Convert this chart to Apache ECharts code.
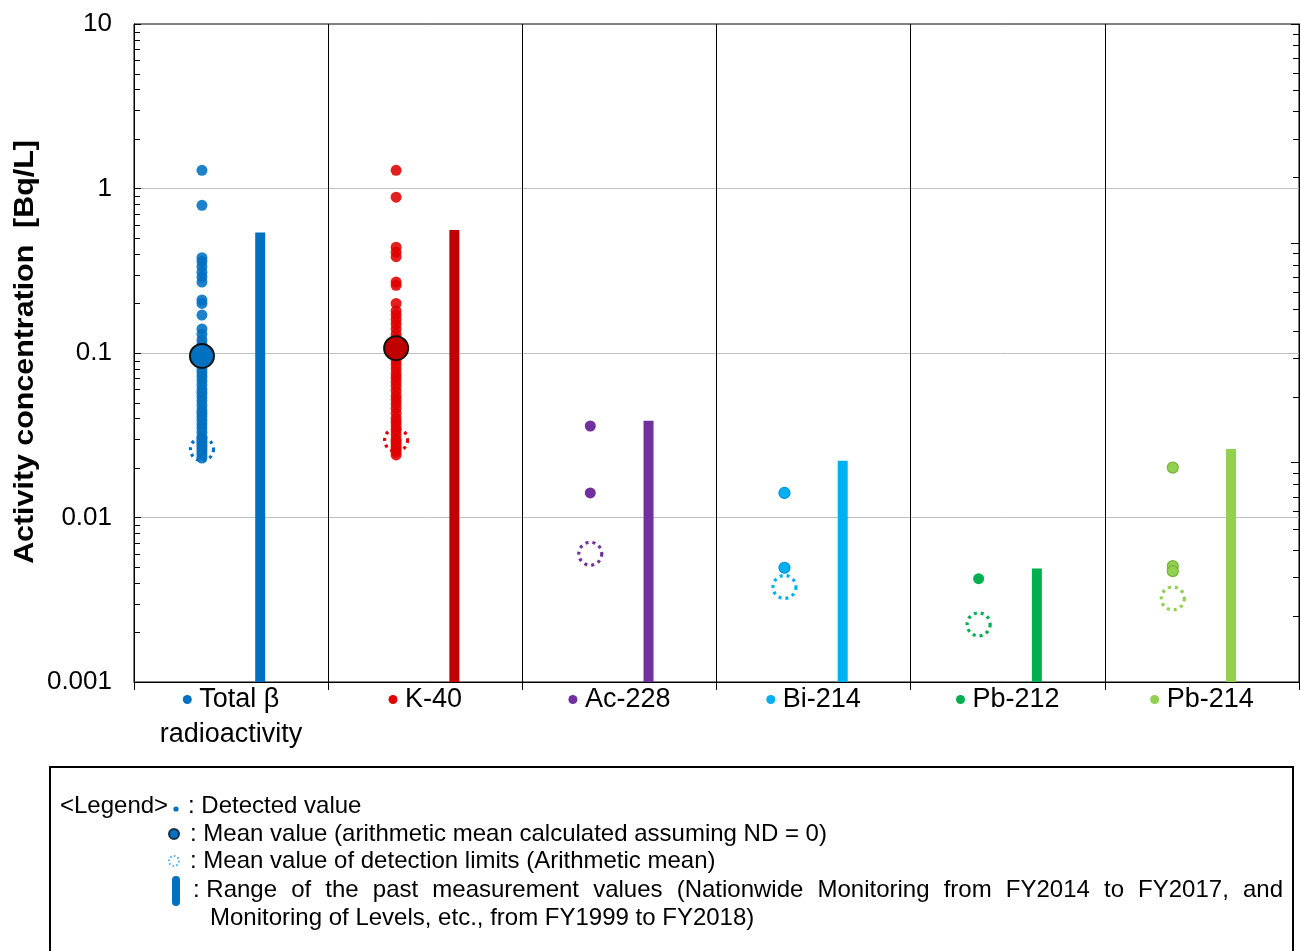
<!DOCTYPE html>
<html>
<head>
<meta charset="utf-8">
<title>Activity concentration</title>
<script src="https://cdn.jsdelivr.net/npm/echarts@6/dist/echarts.min.js"></script>
<style>
  html, body { margin: 0; padding: 0; background: #fff; }
  #chart { width: 1301px; height: 951px; }
</style>
</head>
<body>
<div id="chart"></div>
<script>
// ---- data ----
const categories = ['Total β', 'K-40', 'Ac-228', 'Bi-214', 'Pb-212', 'Pb-214'];
const categorySubLines = ['radioactivity', '', '', '', '', ''];
const colors = ['#0070C0', '#C00000', '#7030A0', '#00B0F0', '#00B050', '#92D050'];
const dotColors = ['#0070C0', '#E00000', '#7030A0', '#00B0F0', '#00B050', '#92D050'];
const dotBorders = [null, null, null, '#0090D8', null, '#78B23C'];

// detected values [Bq/L]
const totalBetaDetected = [1.29, 0.79, 0.38, 0.36, 0.335, 0.31, 0.29, 0.27, 0.21, 0.2, 0.17,
  0.14, 0.13, 0.12, 0.113, 0.105, 0.095, 0.09, 0.085, 0.08, 0.076, 0.072, 0.068, 0.064, 0.06,
  0.057, 0.054, 0.051, 0.048, 0.045, 0.043, 0.041, 0.039, 0.037, 0.035, 0.033, 0.031, 0.03,
  0.029, 0.028, 0.027, 0.026, 0.025, 0.024, 0.023];
const k40Detected = [1.29, 0.885, 0.44, 0.41, 0.385, 0.27, 0.258, 0.2, 0.18, 0.17, 0.16, 0.15,
  0.14, 0.13, 0.122, 0.115, 0.108, 0.1, 0.095, 0.09, 0.085, 0.08, 0.075, 0.071, 0.067, 0.063,
  0.059, 0.055, 0.052, 0.049, 0.046, 0.043, 0.04, 0.038, 0.036, 0.034, 0.032, 0.03, 0.029,
  0.028, 0.027, 0.026, 0.025, 0.024];
const ac228Detected = [0.036, 0.0141];
const bi214Detected = [0.0141, 0.00495];
const pb212Detected = [0.00425];
const pb214Detected = [0.0201, 0.00506, 0.00472];
const detectedByCategory = [totalBetaDetected, k40Detected, ac228Detected, bi214Detected, pb212Detected, pb214Detected];

// arithmetic means (ND = 0); only where shown
const meanValues = [0.096, 0.107, null, null, null, null];
// mean of detection limits
const detectionLimitMeans = [0.026, 0.0296, 0.00602, 0.00378, 0.00224, 0.00322];
// range of past measurement values
const pastRangeMin = [0.001, 0.001, 0.001, 0.001, 0.001, 0.001];
const pastRangeMax = [0.54, 0.56, 0.0387, 0.0221, 0.0049, 0.0261];

const yTickLabels = ['0.001', '0.01', '0.1', '1', '10'];
const yAxisTitle = 'Activity concentration  [Bq/L]';

// minor tick values for the two log scales
function minorTicks(lowExp, highExp) {
  const out = [];
  for (let e = lowExp; e < highExp; e++) {
    for (let m = 2; m <= 9; m++) out.push(+(m * Math.pow(10, e)).toPrecision(3));
  }
  return out;
}
const leftMinor = minorTicks(-3, 1);
const rightMinor = minorTicks(-2, 1);

const DOT_OFFSET = 0.35, BAR_OFFSET = 0.65;
const FONT = '"Liberation Sans", Arial, sans-serif';

// ---- series ----
const series = [];

// past range bars
series.push({
  type: 'custom',
  xAxisIndex: 0, yAxisIndex: 0,
  silent: true,
  data: categories.map((c, i) => [i + BAR_OFFSET, pastRangeMin[i], pastRangeMax[i], i]),
  encode: { x: 0, y: [1, 2] },
  renderItem(params, api) {
    const x = api.value(0);
    const lo = api.coord([x, api.value(1)]);
    const hi = api.coord([x, api.value(2)]);
    return {
      type: 'rect',
      shape: { x: lo[0] - 5, y: hi[1], width: 10, height: lo[1] - hi[1] },
      style: { fill: colors[api.value(3)] }
    };
  }
});

// detection limit means (dotted rings)
series.push({
  type: 'scatter',
  xAxisIndex: 0, yAxisIndex: 0,
  silent: true,
  symbol: 'circle',
  symbolSize: 23,
  data: detectionLimitMeans.map((v, i) => ({
    value: [i + DOT_OFFSET, v],
    itemStyle: { color: 'rgba(255,255,255,0)', opacity: 1, borderColor: dotColors[i], borderWidth: 3.2, borderType: [3, 4] }
  }))
});

// detected values
detectedByCategory.forEach((vals, i) => {
  series.push({
    type: 'scatter',
    xAxisIndex: 0, yAxisIndex: 0,
    silent: true,
    symbol: 'circle',
    symbolSize: 11,
    itemStyle: {
      color: dotColors[i],
      opacity: i < 2 ? 0.88 : 1,
      borderColor: dotBorders[i] || dotColors[i],
      borderWidth: dotBorders[i] ? 1.2 : 0
    },
    data: vals.map(v => [i + DOT_OFFSET, v])
  });
});

// arithmetic means
series.push({
  type: 'scatter',
  xAxisIndex: 0, yAxisIndex: 0,
  silent: true,
  symbol: 'circle',
  symbolSize: 24,
  data: meanValues.map((v, i) => v == null ? null : ({
    value: [i + DOT_OFFSET, v],
    itemStyle: { color: colors[i], opacity: 1, borderColor: '#111', borderWidth: 2 }
  })).filter(d => d)
});

// minor ticks on the left and right log scales
function tickSeries(values, xPos, yIdx, len, dir) {
  return {
    type: 'custom',
    xAxisIndex: 0, yAxisIndex: yIdx,
    silent: true,
    z: 5,
    data: values.map(v => [xPos, v]),
    encode: { x: 0, y: 1 },
    renderItem(params, api) {
      const p = api.coord([api.value(0), api.value(1)]);
      const y = Math.round(p[1]) + 0.5;
      return {
        type: 'line',
        shape: { x1: p[0], y1: y, x2: p[0] + dir * len, y2: y },
        style: { stroke: '#000', lineWidth: 1 }
      };
    }
  };
}
series.push(tickSeries(leftMinor, 0, 0, 6, 1));
series.push(tickSeries(rightMinor, 6, 1, 6, -1));

// ---- axis label rich styles ----
const rich = { t: { fontSize: 27, fontFamily: FONT, color: '#000', lineHeight: 35, align: 'center' } };
categories.forEach((c, i) => {
  rich['d' + i] = { width: 9, height: 9, borderRadius: 4.5, backgroundColor: dotColors[i], align: 'center', lineHeight: 35 };
});

const option = {
  animation: false,
  backgroundColor: '#fff',
  grid: { left: 134, right: 2, top: 24, bottom: 269, show: true, borderColor: '#000', borderWidth: 1, backgroundColor: 'transparent' },
  xAxis: [
    {
      type: 'value', min: 0, max: 6, interval: 1,
      axisLine: { show: true, onZero: false, lineStyle: { color: '#000', width: 1 } },
      axisTick: { show: true, length: 8, lineStyle: { color: '#000' } },
      axisLabel: { show: false },
      splitLine: { show: true, lineStyle: { color: '#000', width: 1 } }
    },
    {
      type: 'category', position: 'bottom', data: categories,
      axisLine: { show: false }, axisTick: { show: false }, splitLine: { show: false },
      axisLabel: {
        interval: 0, margin: 0,
        formatter: (v, i) => '{d' + i + '|}{t| ' + v + '}' + (categorySubLines[i] ? '\n{t|' + categorySubLines[i] + '}' : ''),
        rich
      }
    }
  ],
  yAxis: [
    {
      type: 'log', logBase: 10, min: 0.001, max: 10, position: 'left',
      axisLine: { show: true, onZero: false, lineStyle: { color: '#000', width: 1 } },
      axisTick: { show: true, inside: true, length: 7, lineStyle: { color: '#000' } },
      axisLabel: {
        color: '#000', fontSize: 26, fontFamily: FONT, margin: 22,
        formatter: (v, i) => yTickLabels[i]
      },
      splitLine: { show: true, showMinLine: false, showMaxLine: false, lineStyle: { color: '#c0c0c0', width: 1 } }
    },
    {
      type: 'log', logBase: 10, min: 0.01, max: 10, position: 'right',
      axisLine: { show: true, onZero: false, lineStyle: { color: '#000', width: 1 } },
      axisTick: { show: true, inside: true, length: 8, lineStyle: { color: '#000' } },
      axisLabel: { show: false },
      splitLine: { show: false }
    }
  ],
  series
};

// ---- legend panel ----
const LFONT_SIZE = 24;
const LFONT = LFONT_SIZE + 'px ' + FONT;
const measureCtx = document.createElement('canvas').getContext('2d');
measureCtx.font = LFONT;

function legendText(x, y, text) {
  return { type: 'text', x, y, style: { text, font: LFONT, fill: '#000', textVerticalAlign: 'middle' } };
}

// stretch words of one line so it spans from x0 to x1
function justifiedLine(words, x0, x1, y) {
  const widths = words.map(w => measureCtx.measureText(w).width);
  const total = widths.reduce((a, b) => a + b, 0);
  const gap = (x1 - x0 - total) / (words.length - 1);
  const out = [];
  let x = x0;
  words.forEach((w, i) => {
    out.push(legendText(x, y, w));
    x += widths[i] + gap;
  });
  return out;
}

const legendRangeWords = [': Range', 'of', 'the', 'past', 'measurement', 'values', '(Nationwide',
  'Monitoring', 'from', 'FY2014', 'to', 'FY2017,', 'and'];

const legendElements = [
  // rotated y-axis title
  {
    type: 'text', x: 25, y: 352, rotation: Math.PI / 2, scaleX: 1.085,
    style: { text: yAxisTitle, font: 'bold 28px ' + FONT, fill: '#000', textAlign: 'center', textVerticalAlign: 'middle' }
  },
  { type: 'rect', shape: { x: 50, y: 767, width: 1243, height: 220 }, style: { fill: 'none', stroke: '#000', lineWidth: 2 } },
  legendText(60, 806, '<Legend>'),
  { type: 'circle', shape: { cx: 176, cy: 809, r: 2.6 }, style: { fill: '#0070C0' } },
  legendText(188, 806, ': Detected value'),
  { type: 'circle', shape: { cx: 174, cy: 834, r: 5 }, style: { fill: '#0070C0', stroke: '#1d2f45', lineWidth: 2 } },
  legendText(190, 834, ': Mean value (arithmetic mean calculated assuming ND = 0)'),
  { type: 'circle', shape: { cx: 174, cy: 861, r: 5 }, style: { fill: 'none', stroke: '#4fb8ee', lineWidth: 2, lineDash: [1.6, 2.2] } },
  legendText(190, 861, ': Mean value of detection limits (Arithmetic mean)'),
  { type: 'rect', shape: { x: 172, y: 876, width: 8, height: 30, r: 4 }, style: { fill: '#0070C0' } },
  ...justifiedLine(legendRangeWords, 193, 1283, 890),
  legendText(210, 918, 'Monitoring of Levels, etc., from FY1999 to FY2018)')
];
option.graphic = { elements: legendElements };

const chart = echarts.init(document.getElementById('chart'), null, { renderer: 'canvas' });
chart.setOption(option);
</script>
</body>
</html>
